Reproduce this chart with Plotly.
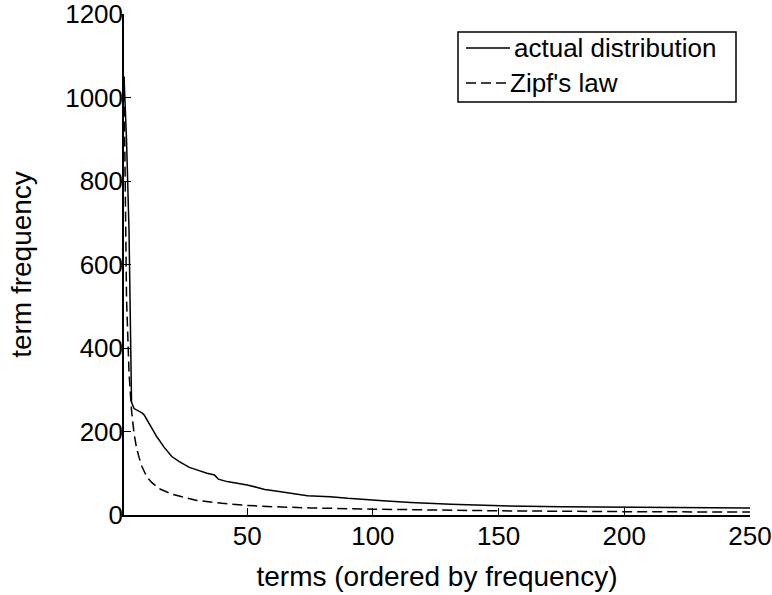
import plotly.graph_objects as go

# term ranks and frequencies
actual_rank = [1, 2, 3, 4, 5, 6, 7, 8, 9, 10, 12, 14, 17, 20, 23, 27, 30, 34, 37, 38.5, 42, 46, 50, 54, 57, 62, 68, 74, 83, 90, 104, 115, 131, 151, 175, 197, 225, 250]
actual_freq = [1050, 900, 680, 270, 255, 252, 250, 245, 240, 230, 210, 188, 162, 140, 128, 114, 108, 100, 96, 86, 80, 76, 72, 66, 61, 57, 52, 46, 44, 40, 34, 30, 26, 22, 20, 19, 18, 17]

zipf_rank = [1, 2, 3, 4, 5, 6, 7, 8, 10, 12, 15, 20, 25, 30, 40, 50, 60, 75, 100, 125, 150, 200, 250]
zipf_freq = [1050, 520, 340, 250, 195, 160, 138, 118, 92, 78, 63, 50, 42, 35, 28, 23, 20, 17, 14, 12, 10, 8, 7]

series_names = ["actual distribution", "Zipf's law"]

x_ticks = [50, 100, 150, 200, 250]
y_ticks = [0, 200, 400, 600, 800, 1000, 1200]

FONT = "Liberation Sans, Arial, sans-serif"
DASH = "10px,5px"

# plot area in pixels (for placing the legend box)
W, H = 772, 595
L, R, T, B = 124, 22, 14, 80
PW, PH = W - L - R, H - T - B


def px_x(p):
    return (p - L) / PW


def px_y(p):
    return (H - B - p) / PH


fig = go.Figure()
fig.add_trace(go.Scatter(x=actual_rank, y=actual_freq, mode="lines",
                         name=series_names[0], showlegend=False,
                         line=dict(color="black", width=1.5)))
fig.add_trace(go.Scatter(x=zipf_rank, y=zipf_freq, mode="lines",
                         name=series_names[1], showlegend=False,
                         line=dict(color="black", width=1.5, dash=DASH)))

# legend drawn as box + line samples + text
shapes = [
    dict(type="rect", xref="paper", yref="paper",
         x0=px_x(458), x1=px_x(736), y0=px_y(102), y1=px_y(32),
         line=dict(color="black", width=1.5), fillcolor="white", layer="above"),
    dict(type="line", xref="paper", yref="paper",
         x0=px_x(466), x1=px_x(510), y0=px_y(48), y1=px_y(48),
         line=dict(color="black", width=1.5), layer="above"),
    dict(type="line", xref="paper", yref="paper",
         x0=px_x(466), x1=px_x(508), y0=px_y(83), y1=px_y(83),
         line=dict(color="black", width=1.5, dash=DASH), layer="above"),
]
annotations = [
    dict(xref="paper", yref="paper", x=px_x(512), y=px_y(48), text=series_names[0],
         showarrow=False, xanchor="left", yanchor="middle", font=dict(size=26)),
    dict(xref="paper", yref="paper", x=px_x(508), y=px_y(83), text=series_names[1],
         showarrow=False, xanchor="left", yanchor="middle", font=dict(size=26)),
]

fig.update_layout(
    width=W, height=H,
    margin=dict(l=L, r=R, t=T, b=B),
    paper_bgcolor="white", plot_bgcolor="white",
    font=dict(family=FONT, size=26, color="black"),
    showlegend=False,
    shapes=shapes,
    annotations=annotations,
    xaxis=dict(range=[1, 250], tickvals=x_ticks, ticks="inside", ticklen=7,
               tickcolor="black", showline=True, linecolor="black", linewidth=1.5,
               showgrid=False, zeroline=False, automargin=False,
               ticklabeloverflow="allow", ticklabelstandoff=-3,
               title=dict(text="terms (ordered by frequency)", standoff=16,
                          font=dict(size=28)),
               tickfont=dict(size=26)),
    yaxis=dict(range=[0, 1200], tickvals=y_ticks, ticks="inside", ticklen=7,
               tickcolor="black", showline=True, linecolor="black", linewidth=1.5,
               showgrid=False, zeroline=False, automargin=False,
               ticklabeloverflow="allow", ticklabelstandoff=-6,
               title=dict(text="term frequency", standoff=25,
                          font=dict(size=28)),
               tickfont=dict(size=26)),
)

fig.write_html("out.html")
